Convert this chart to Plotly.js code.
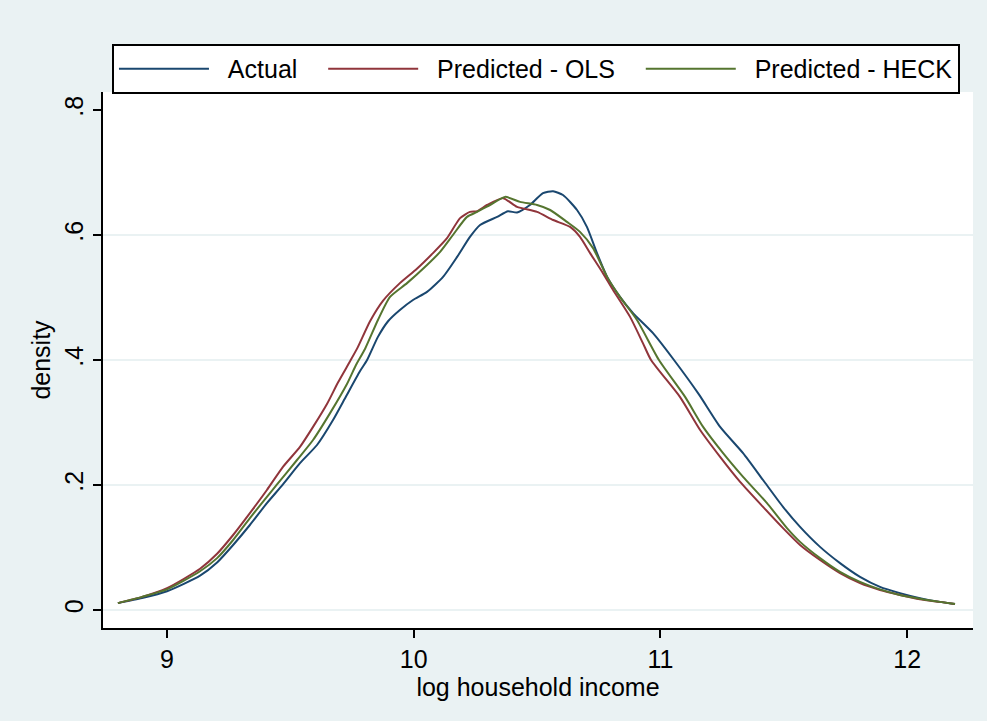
<!DOCTYPE html>
<html>
<head>
<meta charset="utf-8">
<script src="https://cdn.plot.ly/plotly-3.0.1.min.js"></script>
<style>
  html, body { margin: 0; padding: 0; background: #EAF2F3; }
  #chart { width: 987px; height: 721px; }
</style>
</head>
<body>
<div id="chart"></div>
<script>
// Kernel density estimates of log household income
const actualX = [8.801, 8.899, 9.000, 9.134, 9.203, 9.268, 9.336, 9.405, 9.470, 9.539, 9.608, 9.673, 9.726, 9.782, 9.811, 9.855, 9.896, 9.944, 9.997, 10.054, 10.119, 10.176, 10.228, 10.269, 10.338, 10.382, 10.419, 10.471, 10.524, 10.565, 10.605, 10.662, 10.702, 10.743, 10.784, 10.836, 10.889, 10.970, 11.055, 11.156, 11.242, 11.335, 11.416, 11.497, 11.566, 11.647, 11.728, 11.809, 11.890, 11.971, 12.052, 12.133, 12.194];
const actualY = [0.011, 0.019, 0.030, 0.055, 0.076, 0.104, 0.136, 0.171, 0.201, 0.235, 0.264, 0.304, 0.342, 0.382, 0.400, 0.437, 0.462, 0.480, 0.496, 0.509, 0.533, 0.565, 0.597, 0.616, 0.629, 0.638, 0.636, 0.648, 0.667, 0.670, 0.664, 0.640, 0.613, 0.571, 0.533, 0.501, 0.475, 0.443, 0.400, 0.345, 0.293, 0.251, 0.208, 0.165, 0.133, 0.101, 0.075, 0.053, 0.037, 0.027, 0.019, 0.013, 0.0096];

const olsX = [8.801, 8.899, 9.000, 9.069, 9.134, 9.203, 9.268, 9.336, 9.405, 9.470, 9.539, 9.592, 9.649, 9.693, 9.742, 9.774, 9.823, 9.876, 9.944, 10.013, 10.078, 10.135, 10.188, 10.228, 10.257, 10.297, 10.362, 10.419, 10.500, 10.565, 10.634, 10.674, 10.715, 10.767, 10.808, 10.877, 10.929, 10.962, 11.079, 11.161, 11.242, 11.323, 11.416, 11.497, 11.566, 11.647, 11.728, 11.809, 11.890, 11.971, 12.052, 12.133, 12.194];
const olsY = [0.011, 0.021, 0.035, 0.050, 0.066, 0.090, 0.120, 0.155, 0.192, 0.229, 0.261, 0.293, 0.330, 0.364, 0.398, 0.421, 0.462, 0.495, 0.523, 0.546, 0.571, 0.595, 0.627, 0.637, 0.638, 0.648, 0.659, 0.645, 0.637, 0.624, 0.613, 0.597, 0.571, 0.539, 0.512, 0.469, 0.427, 0.400, 0.341, 0.288, 0.245, 0.205, 0.165, 0.131, 0.104, 0.080, 0.059, 0.043, 0.032, 0.024, 0.017, 0.013, 0.0096];

const heckX = [8.801, 8.899, 9.000, 9.134, 9.203, 9.268, 9.336, 9.405, 9.446, 9.527, 9.592, 9.661, 9.730, 9.766, 9.803, 9.855, 9.904, 9.973, 10.054, 10.107, 10.159, 10.216, 10.257, 10.309, 10.370, 10.431, 10.500, 10.553, 10.621, 10.674, 10.727, 10.784, 10.836, 10.905, 10.994, 11.100, 11.173, 11.254, 11.335, 11.432, 11.513, 11.566, 11.647, 11.728, 11.809, 11.890, 11.971, 12.052, 12.133, 12.194];
const heckY = [0.011, 0.021, 0.033, 0.062, 0.083, 0.112, 0.147, 0.181, 0.201, 0.240, 0.272, 0.315, 0.362, 0.392, 0.418, 0.464, 0.501, 0.523, 0.552, 0.573, 0.600, 0.629, 0.637, 0.648, 0.661, 0.653, 0.648, 0.640, 0.621, 0.605, 0.579, 0.533, 0.501, 0.464, 0.400, 0.341, 0.293, 0.251, 0.213, 0.171, 0.131, 0.109, 0.083, 0.061, 0.045, 0.033, 0.024, 0.018, 0.013, 0.0096];

const seriesNames = ['Actual', 'Predicted - OLS', 'Predicted - HECK'];
const seriesColors = ['#1A476F', '#90353B', '#55752F'];

const xTickVals = [9, 10, 11, 12];
const yTickVals = [0, 0.2, 0.4, 0.6, 0.8];
const yTickText = ['0', '.2', '.4', '.6', '.8'];
const gridLevels = [0, 0.2, 0.4, 0.6];

const FONT = 'Liberation Sans, Arial, Helvetica, sans-serif';
const FS = 25;
const bg = '#EAF2F3';

// non-breaking spaces keep the gap between key line and label, and between entries
const NB = '\u00A0';
const legendLabel = (name, last) => NB + NB + name + (last ? '' : NB + NB + NB);

const xs = [actualX, olsX, heckX];
const ys = [actualY, olsY, heckY];

const traces = seriesNames.map((name, i) => ({
  type: 'scatter',
  mode: 'lines',
  name: legendLabel(name, i === seriesNames.length - 1),
  x: xs[i],
  y: ys[i],
  line: { color: seriesColors[i], width: 2, shape: 'spline', smoothing: 0.6 },
  hoverinfo: 'x+y'
}));

const shapes = gridLevels.map(v => ({
  type: 'line', layer: 'below',
  xref: 'paper', x0: 0, x1: 1,
  yref: 'y', y0: v, y1: v,
  line: { color: bg, width: 2 }
}));

const layout = {
  width: 987,
  height: 721,
  paper_bgcolor: bg,
  plot_bgcolor: '#FFFFFF',
  margin: { l: 103, r: 14, t: 92, b: 93, pad: 0 },
  font: { family: FONT, size: FS, color: '#000000' },
  showlegend: true,
  legend: {
    orientation: 'h',
    x: 0.0103, xanchor: 'left',
    y: 1.0896, yanchor: 'top',
    bgcolor: '#FFFFFF',
    bordercolor: '#000000',
    borderwidth: 2,
    itemwidth: 90,
    font: { family: FONT, size: FS, color: '#000000' },
    traceorder: 'normal'
  },
  xaxis: {
    range: [8.7406, 12.267],
    tickvals: xTickVals,
    ticks: 'outside', ticklen: 8, tickwidth: 2, tickcolor: '#000000',
    showline: true, linecolor: '#000000', linewidth: 2, mirror: false,
    showgrid: false, zeroline: false,
    tickfont: { family: FONT, size: FS },
    title: { text: 'log household income', font: { family: FONT, size: FS }, standoff: 0 }
  },
  yaxis: {
    range: [-0.0288, 0.8288],
    tickvals: yTickVals,
    ticktext: yTickText,
    tickangle: -90,
    ticks: 'outside', ticklen: 8, tickwidth: 2, tickcolor: '#000000',
    showline: true, linecolor: '#000000', linewidth: 2, mirror: false,
    showgrid: false, zeroline: false,
    tickfont: { family: FONT, size: FS },
    title: { text: 'density', font: { family: FONT, size: FS }, standoff: 2 }
  },
  shapes: shapes
};

Plotly.newPlot('chart', traces, layout, { displayModeBar: false, staticPlot: true });
</script>
</body>
</html>
